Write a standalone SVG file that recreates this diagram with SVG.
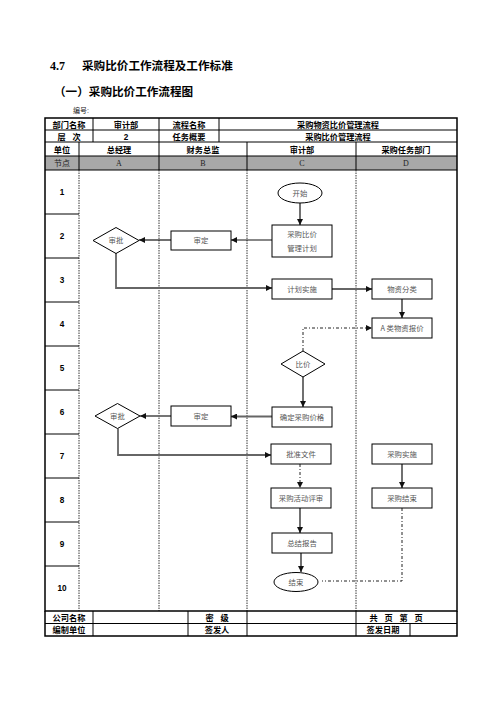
<svg xmlns="http://www.w3.org/2000/svg" width="496" height="702" viewBox="0 0 496 702">
<style>
text{font-family:"Liberation Sans","Noto Sans CJK SC",sans-serif;}
.ti{font-size:11.6px;font-weight:bold;fill:#000}
.hb{font-size:8.2px;font-weight:bold;fill:#000;text-anchor:middle}
.gr{font-size:8px;fill:#222;text-anchor:middle;font-family:"Liberation Serif","Noto Sans CJK SC",serif}
.nt{font-size:7.4px;fill:#555;text-anchor:middle;font-family:"Noto Sans CJK SC",sans-serif}
.box{fill:#fff;stroke:#000;stroke-width:1}
.lane{stroke:#000;stroke-width:0.8;stroke-dasharray:1.5 1;fill:none}
.tl{stroke:#000;stroke-width:1;fill:none}
.tk{stroke:#000;stroke-width:1.5;fill:none}
.c{fill:none;stroke:#111;stroke-width:1.2}
.cg{fill:none;stroke:#666;stroke-width:1.8}
.dd{fill:none;stroke:#222;stroke-width:1;stroke-dasharray:3 2 1 2}
</style>
<defs>
<marker id="ah" markerWidth="6" markerHeight="6" refX="6" refY="3" orient="auto" markerUnits="userSpaceOnUse">
<path d="M0,0 L6,3 L0,6 z" fill="#111"/>
</marker>
</defs>
<rect width="496" height="702" fill="#fff"/>
<g id="titles">
<text x="50" y="70" style="font-family:'Liberation Serif',serif;font-size:12px;font-weight:bold">4.7</text>
<text x="82" y="70" class="ti">采购比价工作流程及工作标准</text>
<text x="54" y="96" class="ti">（一）采购比价工作流程图</text>
<text x="73" y="113" style="font-size:7px;fill:#222">编号:</text>
</g>
<g id="header">
<rect x="45" y="156" width="412" height="14" fill="#a8a8a8"/>
<rect x="45" y="118" width="412" height="493" class="tk"/>
<path class="tl" d="M45,130H457M45,142H457M45,156H457M45,170H457"/>
<path class="tl" d="M93,118V142M159,118V142M219,118V142"/>
<path class="tl" d="M79,142V170M159,142V170M247,142V170M356,142V170"/>
<text x="69" y="127.5" class="hb">部门名称</text>
<text x="126" y="127.5" class="hb">审计部</text>
<text x="189" y="127.5" class="hb">流程名称</text>
<text x="338" y="127.5" class="hb">采购物资比价管理流程</text>
<text x="69" y="139.5" class="hb" xml:space="preserve">层   次</text>
<text x="126" y="139.5" class="hb">2</text>
<text x="189" y="139.5" class="hb">任务概要</text>
<text x="338" y="139.5" class="hb">采购比价管理流程</text>
<text x="62" y="152.5" class="hb">单位</text>
<text x="119" y="152.5" class="hb">总经理</text>
<text x="203" y="152.5" class="hb">财务总监</text>
<text x="302" y="152.5" class="hb">审计部</text>
<text x="406" y="152.5" class="hb">采购任务部门</text>
<text x="62" y="166" class="gr">节点</text>
<text x="119" y="166" class="gr">A</text>
<text x="203" y="166" class="gr">B</text>
<text x="302" y="166" class="gr">C</text>
<text x="406" y="166" class="gr">D</text>
</g>
<g id="grid">
<path class="lane" d="M79,170V611M159,170V611M247,170V611M356,170V611"/>
<path class="tl" d="M45,214H79M45,258H79M45,302H79M45,346H79M45,390H79M45,434H79M45,478H79M45,522H79M45,566H79"/>
<text x="62" y="195" class="hb">1</text>
<text x="62" y="239" class="hb">2</text>
<text x="62" y="283" class="hb">3</text>
<text x="62" y="327" class="hb">4</text>
<text x="62" y="371" class="hb">5</text>
<text x="62" y="415" class="hb">6</text>
<text x="62" y="459" class="hb">7</text>
<text x="62" y="503" class="hb">8</text>
<text x="62" y="547" class="hb">9</text>
<text x="62" y="591" class="hb">10</text>
</g>
<g id="footer">
<path class="tk" d="M45,611V636H457V611"/>
<path class="tl" d="M45,623.5H457M93,611V636M188,611V636M247,611V636M356,611V636M410,623.5V636"/>
<text x="69" y="620.5" class="hb">公司名称</text>
<text x="217" y="620.5" class="hb" xml:space="preserve">密   级</text>
<text x="396" y="620.5" class="hb" xml:space="preserve">共   页   第   页</text>
<text x="69" y="633" class="hb">编制单位</text>
<text x="217" y="633" class="hb">签发人</text>
<text x="383" y="633" class="hb">签发日期</text>
</g>
<g id="connectors">
<path class="c" d="M300,203V225" marker-end="url(#ah)"/>
<path class="c" d="M272,240H231" marker-end="url(#ah)"/>
<path class="c" d="M171,240H139" marker-end="url(#ah)"/>
<path class="cg" d="M116,253V288H272" marker-end="url(#ah)"/>
<path class="cg" d="M332,289H372" marker-end="url(#ah)"/>
<path class="c" d="M402,299V318" marker-end="url(#ah)"/>
<path class="dd" d="M303,351V328H372" marker-end="url(#ah)"/>
<path class="c" d="M303,377V407" marker-end="url(#ah)"/>
<path class="cg" d="M272,416.5H231" marker-end="url(#ah)"/>
<path class="cg" d="M171,416H140" marker-end="url(#ah)"/>
<path class="cg" d="M118,428.5V455H271" marker-end="url(#ah)"/>
<path class="dd" d="M300,464V488" marker-end="url(#ah)"/>
<path class="c" d="M402,464V488" marker-end="url(#ah)"/>
<path class="c" d="M300,508V533" marker-end="url(#ah)"/>
<path class="c" d="M301,553V572" marker-end="url(#ah)"/>
<path class="dd" d="M402,508V581H322"/>
</g>
<g id="n-start"><ellipse cx="300" cy="193" rx="22" ry="10" class="box"/><text x="300" y="195.6" class="nt">开始</text></g>
<g id="n-plan"><rect x="272" y="225" width="60" height="32" class="box"/><text x="302" y="237" class="nt">采购比价</text><text x="302" y="251" class="nt">管理计划</text></g>
<g id="n-review1"><rect x="171" y="231" width="60" height="19" class="box"/><text x="201" y="243" class="nt">审定</text></g>
<g id="n-approve1"><polygon points="93,240.5 116,227.5 139,240.5 116,253.5" class="box"/><text x="116" y="243" class="nt">审批</text></g>
<g id="n-implement"><rect x="272" y="279" width="60" height="20" class="box"/><text x="302" y="291.6" class="nt">计划实施</text></g>
<g id="n-classify"><rect x="372" y="279" width="60" height="20" class="box"/><text x="402" y="291.6" class="nt">物资分类</text></g>
<g id="n-quote"><rect x="372" y="318" width="60" height="20" class="box"/><text x="402" y="330.6" class="nt">A 类物资报价</text></g>
<g id="n-compare"><polygon points="281,364 303,351 325,364 303,377" class="box"/><text x="303" y="366.6" class="nt">比价</text></g>
<g id="n-price"><rect x="272" y="407" width="60" height="20" class="box"/><text x="302" y="419.6" class="nt">确定采购价格</text></g>
<g id="n-review2"><rect x="171" y="406" width="60" height="20" class="box"/><text x="201" y="418.6" class="nt">审定</text></g>
<g id="n-approve2"><polygon points="95,416 117.5,403.5 140,416 117.5,428.5" class="box"/><text x="117.5" y="418.6" class="nt">审批</text></g>
<g id="n-doc"><rect x="271" y="444" width="60" height="20" class="box"/><text x="301" y="456.6" class="nt">批准文件</text></g>
<g id="n-purchase"><rect x="372" y="444" width="60" height="20" class="box"/><text x="402" y="456.6" class="nt">采购实施</text></g>
<g id="n-eval"><rect x="271" y="488" width="60" height="20" class="box"/><text x="301" y="500.6" class="nt">采购活动评审</text></g>
<g id="n-pend"><rect x="372" y="488" width="60" height="20" class="box"/><text x="402" y="500.6" class="nt">采购结束</text></g>
<g id="n-report"><rect x="272" y="533" width="60" height="20" class="box"/><text x="302" y="545.6" class="nt">总结报告</text></g>
<g id="n-end"><ellipse cx="296" cy="582" rx="22" ry="9.5" class="box"/><text x="296" y="584.6" class="nt">结束</text></g>
</svg>
